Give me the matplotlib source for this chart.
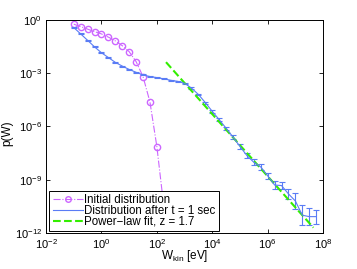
import numpy as np
import matplotlib
matplotlib.use('Agg')
import matplotlib.pyplot as plt
from matplotlib.lines import Line2D

plt.rcParams['font.family'] = ['Liberation Sans', 'DejaVu Sans']
plt.rcParams['mathtext.default'] = 'regular'
plt.rcParams['font.size'] = 8

# initial distribution (log10 W, log10 p)
init_logw = [-1.0, -0.75, -0.5, -0.25, 0.0, 0.25, 0.5, 0.75, 1.0, 1.25, 1.5, 1.75, 2.0, 2.25]
init_logp = [-0.24, -0.38, -0.52, -0.66, -0.79, -0.97, -1.18, -1.45, -1.79, -2.35, -3.19, -4.62, -7.14, -10.5]

# distribution after t = 1 sec
dist_logw = [-1.0, -0.75, -0.5, -0.25, 0.0, 0.25, 0.5, 0.75, 1.0, 1.25, 1.5, 1.75,
             2.0, 2.25, 2.5, 2.75, 3.0, 3.25, 3.5, 3.75, 4.0, 4.25, 4.5, 4.75,
             5.0, 5.25, 5.5, 5.75, 6.0, 6.25, 6.5, 6.75, 7.0, 7.25, 7.5, 7.75]
dist_logp = [-0.43, -0.79, -1.15, -1.52, -1.85, -2.12, -2.39, -2.60, -2.79, -2.95, -3.10, -3.19,
             -3.25, -3.32, -3.40, -3.46, -3.57, -3.84, -4.20, -4.66, -5.15, -5.62, -6.10, -6.60,
             -7.13, -7.64, -8.02, -8.28, -8.78, -9.30, -9.33, -9.80, -10.2, -11.0, -11.08, -11.08]
# error half width in decades
dist_err = [0.03, 0.03, 0.03, 0.03, 0.03, 0.03, 0.03, 0.03, 0.03, 0.03, 0.03, 0.03,
            0.03, 0.03, 0.03, 0.03, 0.04, 0.05, 0.05, 0.06, 0.07, 0.08, 0.08, 0.1,
            0.12, 0.15, 0.16, 0.16, 0.18, 0.2, 0.22, 0.3, 0.44, 0.56, 0.48, 0.4]

# power-law fit end points
fit_logw = [2.33, 7.65]
fit_logp = [-2.38, -11.7]

W0 = 10.0 ** np.array(init_logw)
P0 = 10.0 ** np.array(init_logp)
W1 = 10.0 ** np.array(dist_logw)
P1 = 10.0 ** np.array(dist_logp)
e = np.array(dist_err)
yerr = [P1 - P1 * 10.0 ** (-e), P1 * 10.0 ** e - P1]
Wf = 10.0 ** np.array(fit_logw)
Pf = 10.0 ** np.array(fit_logp)

c_init = '#cc66ff'
c_dist = '#5a7cf5'
c_fit = '#33ee00'

fig = plt.figure(figsize=(3.57, 2.69), dpi=100)
ax = fig.add_axes([0.129, 0.134, 0.776, 0.792])

ax.plot(W0, P0, '-.', color=c_init, marker='o', markersize=4.5,
        markerfacecolor='none', linewidth=0.8)
ax.errorbar(W1, P1, yerr=yerr, color=c_dist, linewidth=0.8, elinewidth=0.8,
            capsize=2, capthick=0.8)
ax.plot(Wf, Pf, '--', color=c_fit, linewidth=1.5)

ax.set_xscale('log')
ax.set_yscale('log')
ax.set_xlim(1e-2, 1e8)
ax.set_ylim(1e-12, 1)
ax.set_xticks([1e-2, 1e0, 1e2, 1e4, 1e6, 1e8])
ax.set_yticks([1e-12, 1e-9, 1e-6, 1e-3, 1e0])
ax.minorticks_off()
ax.tick_params(direction='in', length=3, top=True, right=True, width=0.6, pad=3, labelsize=8)
for s in ax.spines.values():
    s.set_linewidth(0.7)

ax.set_xlabel('W$_{kin}$ [eV]', fontsize=8.5, labelpad=-2)
ax.set_ylabel('p(W)', fontsize=8.5)
ax.yaxis.set_label_coords(-0.12, 0.47)

handles = [
    Line2D([], [], color=c_init, linestyle='-.', marker='o', markersize=4,
           markerfacecolor='none', linewidth=0.8),
    Line2D([], [], color=c_dist, linewidth=0.8),
    Line2D([], [], color=c_fit, linestyle='--', linewidth=1.5),
]
labels = ['Initial distribution', 'Distribution after t = 1 sec', 'Power\u2212law fit, z = 1.7']
leg = ax.legend(handles, labels, loc='lower left', bbox_to_anchor=(0.011, 0.009), borderaxespad=0,
                fancybox=False, framealpha=1, edgecolor='black', fontsize=8.3,
                handlelength=2.6, handletextpad=0.15, labelspacing=-0.12, borderpad=0.3)
leg.get_frame().set_linewidth(0.7)

fig.savefig('out.png', dpi=100)
